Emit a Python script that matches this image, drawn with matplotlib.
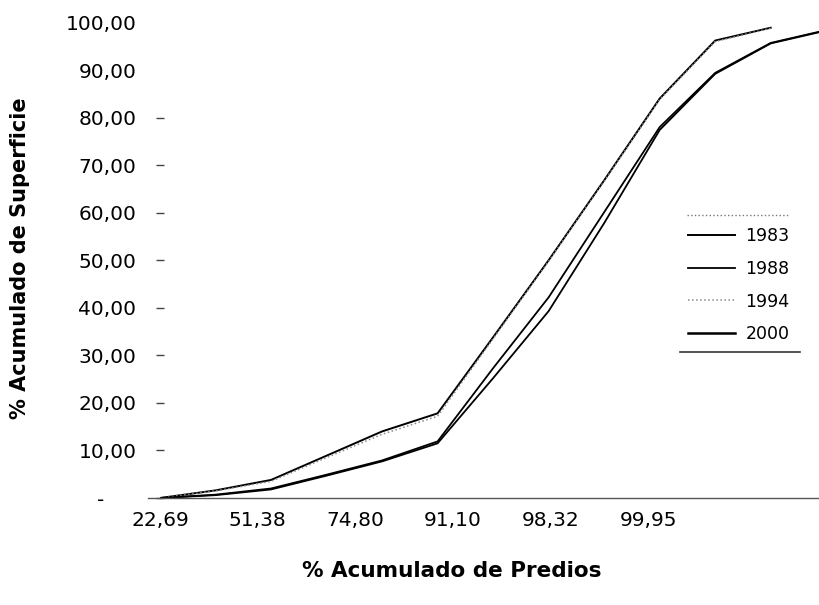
import matplotlib.pyplot as plt
from matplotlib.lines import Line2D
import numpy as np

# data (one point per category step)
serie_1983 = [0, 1.6, 3.8, 8.9, 14.0, 17.8, 33.8, 50.0, 66.8, 84.0, 96.2, 98.9]
serie_1988 = [0, 0.7, 2.0, 4.9, 7.9, 11.9, 27.3, 42.2, 60.1, 78.0, 89.4, 95.7, 98.4]
serie_1994 = [0, 1.5, 3.5, 8.5, 13.4, 17.2, 33.5, 49.8, 66.6, 83.8, 96.0, 98.8]
serie_2000 = [0, 0.6, 1.8, 4.7, 7.7, 11.5, 25.2, 39.3, 57.8, 77.4, 89.2, 95.6, 98.3]

x_labels = ['22,69', '51,38', '74,80', '91,10', '98,32', '99,95']
y_ticks = [0, 10, 20, 30, 40, 50, 60, 70, 80, 90, 100]
y_labels = ['-     '] + ['%d,00' % v for v in y_ticks[1:]]

plt.rcParams['font.family'] = ['DejaVu Sans']

fig = plt.figure(figsize=(8.19, 6.05), dpi=100)
# axes placed in pixels: x from 160 to 819, y from 22.5 to 498
ax = fig.add_axes([160 / 819, 1 - 498 / 605, 659 / 819, 475.5 / 605])

ax.plot(np.arange(len(serie_1983)), serie_1983, color='black', lw=1.4)
ax.plot(np.arange(len(serie_1988)), serie_1988, color='black', lw=1.3)
ax.plot(np.arange(len(serie_1994)), serie_1994, color='#888888', lw=1.1, linestyle=':')
ax.plot(np.arange(len(serie_2000)), serie_2000, color='black', lw=1.3)

ax.set_xlim(0, 11.87)
ax.set_ylim(0, 100)

ax.set_xticks(np.arange(len(x_labels)) * 1.76)
ax.set_xticklabels(x_labels, fontsize=14.5)
ax.tick_params(axis='x', length=0, pad=9)

ax.set_yticks(y_ticks)
ax.set_yticklabels(y_labels, fontsize=14.5)
ax.tick_params(axis='y', direction='inout', length=6, width=1, color='#444444', pad=14)
for t in ax.yaxis.get_major_ticks()[-2:]:
    t.tick1line.set_visible(False)

for s in ['top', 'right', 'left']:
    ax.spines[s].set_visible(False)
ax.spines['bottom'].set_color('#555555')
ax.spines['bottom'].set_linewidth(1.0)
# the scanned axis line starts a bit left of the first category
fig.add_artist(Line2D([148 / 819, 160 / 819], [1 - 498 / 605, 1 - 498 / 605],
                      color='#555555', lw=1.0))

fig.text(452 / 819, 1 - 571 / 605, '% Acumulado de Predios', ha='center', va='center',
         fontsize=15.5, fontweight='bold')
fig.text(20 / 819, 1 - 258 / 605, '% Acumulado de Superficie', ha='center', va='center',
         rotation=90, fontsize=15, fontweight='bold')

# legend without a frame, only top and bottom rules like the original
handles = [Line2D([], [], color='black', lw=1.4),
           Line2D([], [], color='black', lw=1.3),
           Line2D([], [], color='#888888', lw=1.1, linestyle=':'),
           Line2D([], [], color='black', lw=1.8)]
fig.legend(handles, ['1983', '1988', '1994', '2000'], loc='upper left',
           bbox_to_anchor=(688 / 819, 1 - 227 / 605), frameon=False, fontsize=12.5,
           handlelength=2.7, handletextpad=0.6, labelspacing=0.85, borderpad=0,
           borderaxespad=0)
fig.add_artist(Line2D([687 / 819, 790 / 819], [1 - 215 / 605, 1 - 215 / 605],
                      color='#777777', lw=1, linestyle=':'))
fig.add_artist(Line2D([680 / 819, 800 / 819], [1 - 352 / 605, 1 - 352 / 605],
                      color='#333333', lw=1.2))

fig.savefig('out.png', dpi=100)
